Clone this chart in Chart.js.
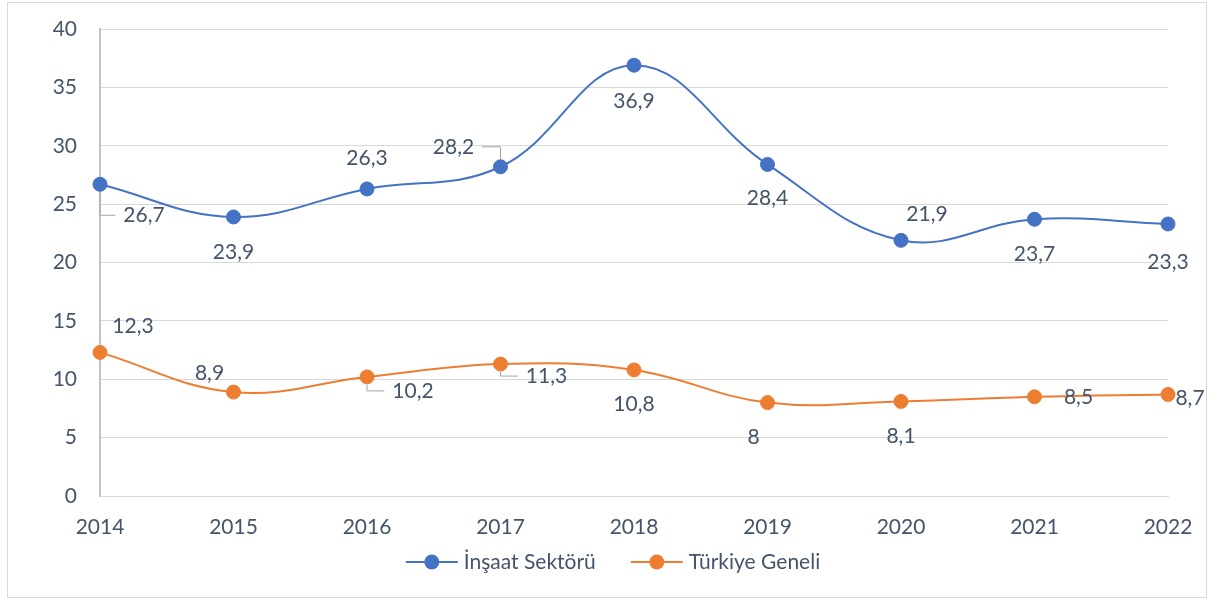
<!DOCTYPE html>
<html>
<head>
<meta charset="utf-8">
<script src="https://cdn.jsdelivr.net/npm/chart.js@4"></script>
<style>
  body { margin: 0; background: #fff; }
  #frame { position: absolute; left: 7px; top: 2px; width: 1198px; height: 594px; border: 1px solid #d9d9d9; }
  #myChart { position: absolute; left: 0; top: 0; }
</style>
</head>
<body>
<div id="frame"></div>
<canvas id="myChart" width="1214" height="603"></canvas>
<script>
const years = ["2014", "2015", "2016", "2017", "2018", "2019", "2020", "2021", "2022"];
const insaat = [26.7, 23.9, 26.3, 28.2, 36.9, 28.4, 21.9, 23.7, 23.3];
const turkiye = [12.3, 8.9, 10.2, 11.3, 10.8, 8, 8.1, 8.5, 8.7];
const yTicks = [0, 5, 10, 15, 20, 25, 30, 35, 40];

const textColor = "#44546a";
const font = "Lato";
const fontSize = 21;

// where each value label sits relative to its point: [dx, dy, leader line]
const labelOffsets = [
  [[44, 31, true], [0, 35], [0, -31], [-47, -20, true], [0, 36], [0, 34], [26, -26], [0, 35], [0, 38]],
  [[33, -26], [-24, -19], [46, 14, true], [46, 12, true], [0, 34], [-14, 35], [0, 35], [44, 0], [22, 4]],
];

const pointLabels = {
  id: "pointLabels",
  afterDatasetsDraw(chart) {
    const c = chart.ctx;
    c.save();
    c.font = fontSize + "px " + font;
    c.textAlign = "center";
    c.textBaseline = "middle";
    chart.data.datasets.forEach((ds, i) => {
      chart.getDatasetMeta(i).data.forEach((pt, j) => {
        const [dx, dy, leader] = labelOffsets[i][j];
        const text = String(ds.data[j]).replace(".", ",");
        const cx = pt.x + dx;
        const cy = pt.y + dy;
        if (leader) {
          const w = c.measureText(text).width;
          const ex = cx - Math.sign(dx) * (w / 2 + 8);
          c.strokeStyle = "#a6a6a6";
          c.lineWidth = 1;
          c.beginPath();
          c.moveTo(ex, cy);
          c.lineTo(pt.x, cy);
          c.lineTo(pt.x, pt.y + Math.sign(dy) * 8);
          c.stroke();
        }
        c.fillStyle = textColor;
        c.fillText(text, cx, cy);
      });
    });
    c.restore();
  },
};

const lineLegend = {
  id: "lineLegend",
  afterDraw(chart) {
    const c = chart.ctx;
    const y = 562;
    c.save();
    c.font = fontSize + "px " + font;
    c.textBaseline = "middle";
    const items = chart.data.datasets.map((ds) => ({
      ds,
      w: 58 + c.measureText(ds.label).width,
    }));
    const gap = 35;
    const total = items.reduce((s, it) => s + it.w, 0) + gap * (items.length - 1);
    let x = 613 - total / 2;
    items.forEach((it) => {
      c.strokeStyle = it.ds.borderColor;
      c.lineWidth = 2;
      c.beginPath();
      c.moveTo(x, y);
      c.lineTo(x + 52, y);
      c.stroke();
      c.fillStyle = it.ds.backgroundColor;
      c.beginPath();
      c.arc(x + 26, y, 7.5, 0, Math.PI * 2);
      c.fill();
      c.fillStyle = textColor;
      c.fillText(it.ds.label, x + 58, y);
      x += it.w + gap;
    });
    c.restore();
  },
};

const ctx = document.getElementById("myChart");

new Chart(ctx, {
  type: "line",
  data: {
    labels: years,
    datasets: [
      {
        label: "İnşaat Sektörü",
        data: insaat,
        borderColor: "#4472c4",
        backgroundColor: "#4472c4",
        borderWidth: 2,
        pointRadius: 7,
        pointBorderWidth: 1,
        tension: 0.4,
        clip: false,
      },
      {
        label: "Türkiye Geneli",
        data: turkiye,
        borderColor: "#ed7d31",
        backgroundColor: "#ed7d31",
        borderWidth: 2,
        pointRadius: 7,
        pointBorderWidth: 1,
        tension: 0.4,
        clip: false,
      },
    ],
  },
  options: {
    responsive: false,
    devicePixelRatio: 1,
    animation: false,
    layout: { autoPadding: false, padding: { top: 29, right: 46, left: 0, bottom: 0 } },
    plugins: { legend: { display: false }, tooltip: { enabled: false } },
    scales: {
      x: {
        offset: false,
        grid: { display: false },
        border: { display: true, color: "#d9d9d9", width: 1 },
        ticks: { color: textColor, font: { family: font, size: fontSize }, padding: 11, maxRotation: 0 },
        afterFit: (scale) => { scale.height = 107; },
      },
      y: {
        min: 0,
        max: 40,
        afterBuildTicks: (scale) => { scale.ticks = yTicks.map((v) => ({ value: v })); },
        grid: { color: "#d9d9d9", drawTicks: true, tickLength: 18, tickColor: "rgba(0,0,0,0)" },
        border: { display: true, color: "#bcc3cf", width: 2 },
        ticks: { color: textColor, font: { family: font, size: fontSize }, padding: 5 },
        afterFit: (scale) => { scale.width = 100; },
      },
    },
  },
  plugins: [pointLabels, lineLegend],
});
</script>
</body>
</html>
